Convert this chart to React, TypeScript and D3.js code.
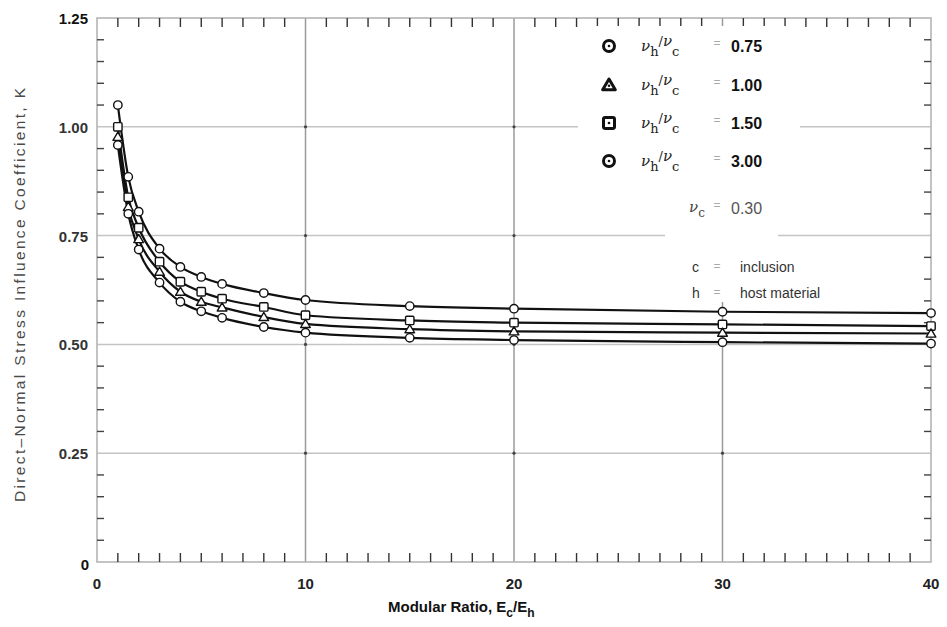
import React from "react";
import * as d3 from "d3";

const W = 947;
const H = 627;

const ratioX: number[] = [1, 1.5, 2, 3, 4, 5, 6, 8, 10, 15, 20, 30, 40];
const seriesTop: number[] = [1.05, 0.885, 0.805, 0.72, 0.678, 0.655, 0.639, 0.618, 0.602, 0.588, 0.582, 0.575, 0.572];
const seriesSecond: number[] = [1.0, 0.838, 0.768, 0.69, 0.644, 0.621, 0.605, 0.586, 0.567, 0.555, 0.55, 0.546, 0.542];
const seriesThird: number[] = [0.977, 0.816, 0.742, 0.667, 0.621, 0.598, 0.585, 0.563, 0.547, 0.535, 0.53, 0.527, 0.525];
const seriesBottom: number[] = [0.958, 0.8, 0.718, 0.642, 0.598, 0.576, 0.561, 0.54, 0.527, 0.515, 0.51, 0.505, 0.502];

const legendValues: string[] = ["0.75", "1.00", "1.50", "3.00"];
const legendShapes: string[] = ["circle", "triangle", "square", "circle"];
const seriesShapes: string[] = ["circle", "square", "triangle", "circle"];

const xTickLabels: number[] = [0, 10, 20, 30, 40];
const yTickLabels: number[] = [0, 0.25, 0.5, 0.75, 1.0, 1.25];

const FONT = "'Liberation Sans', Arial, Helvetica, sans-serif";

function Marker({ shape, cx, cy, r, sw, dot }: { shape: string; cx: number; cy: number; r: number; sw: number; dot?: boolean }) {
  let el: React.ReactNode;
  if (shape === "circle") {
    el = <circle cx={cx} cy={cy} r={r} fill="#fff" stroke="#111" strokeWidth={sw} />;
  } else if (shape === "square") {
    el = <rect x={cx - r} y={cy - r} width={2 * r} height={2 * r} rx={r * 0.3} fill="#fff" stroke="#111" strokeWidth={sw} />;
  } else {
    const pts = [
      [cx, cy - r * 1.1],
      [cx + r * 1.15, cy + r * 0.85],
      [cx - r * 1.15, cy + r * 0.85],
    ];
    el = <polygon points={pts.map((p) => p.join(",")).join(" ")} fill="#fff" stroke="#111" strokeWidth={sw} strokeLinejoin="round" />;
  }
  return (
    <g>
      {el}
      {dot && <circle cx={cx} cy={cy + (shape === "triangle" ? r * 0.15 : 0)} r={1.3} fill="#111" />}
    </g>
  );
}

export default function App() {
  const left = 97, right = 931, top = 18, bottom = 562;
  const x = d3.scaleLinear().domain([0, 40]).range([left, right]);
  const y = d3.scaleLinear().domain([0, 1.25]).range([bottom, top]);

  const allSeries = [seriesTop, seriesSecond, seriesThird, seriesBottom];
  const line = d3
    .line<[number, number]>()
    .x((d) => x(d[0]))
    .y((d) => y(d[1]))
    .curve(d3.curveMonotoneX);

  const minorX = d3.range(1, 40).filter((v) => v % 10 !== 0);
  const minorY = d3.range(1, 25).map((v) => v * 0.05).filter((v) => Math.abs(v / 0.25 - Math.round(v / 0.25)) > 1e-6);

  const legendRows = [46, 85, 123, 161];

  return (
    <svg width={W} height={H} style={{ position: "fixed", left: 0, top: 0, background: "#fff" }} fontFamily={FONT}>
      <rect x={0} y={0} width={W} height={H} fill="#fff" />

      {/* horizontal grid */}
      {[0.25, 0.5, 0.75, 1.0].map((v) => (
        <line key={"hg" + v} x1={left} x2={right} y1={y(v)} y2={y(v)} stroke="#c4c4c4" strokeWidth={1.5} />
      ))}
      {/* vertical grid */}
      {[10, 20, 30].map((v) => (
        <line key={"vg" + v} x1={x(v)} x2={x(v)} y1={top} y2={bottom} stroke="#9a9a9a" strokeWidth={1.5} />
      ))}
      {/* dots at grid intersections */}
      {[10, 20, 30].map((vx) =>
        [0.25, 0.5, 0.75, 1.0].map((vy) => <circle key={"gd" + vx + "_" + vy} cx={x(vx)} cy={y(vy)} r={1.6} fill="#444" />)
      )}

      {/* frame */}
      <rect x={left} y={top} width={right - left} height={bottom - top} fill="none" stroke="#b0b0b0" strokeWidth={1.5} />

      {/* x minor ticks bottom and top */}
      {minorX.map((v) => (
        <g key={"xt" + v}>
          <line x1={x(v)} x2={x(v)} y1={bottom} y2={bottom - 9} stroke="#333" strokeWidth={1.4} />
          <line x1={x(v)} x2={x(v)} y1={top} y2={top + 9} stroke="#333" strokeWidth={1.4} />
        </g>
      ))}
      {/* y minor ticks left and right */}
      {minorY.map((v) => (
        <g key={"yt" + v}>
          <line x1={left} x2={left + 7} y1={y(v)} y2={y(v)} stroke="#444" strokeWidth={1.4} />
          <line x1={right} x2={right - 7} y1={y(v)} y2={y(v)} stroke="#444" strokeWidth={1.4} />
        </g>
      ))}

      {/* legend background masks */}
      <rect x={578} y={26} width={222} height={152} fill="#fff" />
      <rect x={665} y={176} width={113} height={124} fill="#fff" />
      <rect x={680} y={252} width={205} height={50} fill="#fff" />

      {/* series lines */}
      {allSeries.map((s, i) => (
        <path
          key={"ln" + i}
          d={line(ratioX.map((v, j) => [v, s[j]] as [number, number])) || ""}
          fill="none"
          stroke="#111"
          strokeWidth={2.2}
        />
      ))}
      {/* markers */}
      {allSeries.map((s, i) =>
        ratioX.map((v, j) => (
          <Marker key={"mk" + i + "_" + j} shape={seriesShapes[i]} cx={x(v)} cy={y(s[j])} r={4.2} sw={1.4} />
        ))
      )}

      {/* y tick labels */}
      {yTickLabels.map((v) => (
        <text
          key={"yl" + v}
          x={v === 0 ? 89 : 88}
          y={y(v) + (v === 0 ? 8 : 6)}
          textAnchor="end"
          fontSize={15}
          fontWeight="bold"
          fill={v === 1.25 || v === 0 ? "#111" : "#333"}
        >
          {v === 0 ? "0" : v.toFixed(2)}
        </text>
      ))}
      {/* x tick labels */}
      {xTickLabels.map((v) => (
        <text key={"xl" + v} x={x(v)} y={589} textAnchor="middle" fontSize={15} fontWeight="bold" fill="#222">
          {v}
        </text>
      ))}

      {/* axis titles */}
      <text
        transform={`translate(25, 295) rotate(-90)`}
        textAnchor="middle"
        fontSize={15.5}
        fill="#4a4a4a"
        textLength={414}
        lengthAdjust="spacing"
      >
        Direct–Normal Stress Influence Coefficient, K
      </text>
      <text x={388} y={612} fontSize={15} fontWeight="bold" fill="#111">
        Modular Ratio, E
        <tspan dy={5} fontSize={12}>c</tspan>
        <tspan dy={-5}>/E</tspan>
        <tspan dy={5} fontSize={12}>h</tspan>
      </text>

      {/* legend */}
      {legendValues.map((val, i) => {
        const cy = legendRows[i];
        return (
          <g key={"lg" + i}>
            <Marker shape={legendShapes[i]} cx={609} cy={cy} r={5.5} sw={3} dot />
            <text x={641} y={cy + 5} fontSize={15} fill="#222" fontFamily="'DejaVu Serif', serif">
              <tspan fontStyle="italic">ν</tspan>
              <tspan dy={5} fontSize={13}>h</tspan>
              <tspan dy={-10} fontSize={13}>/</tspan>
              <tspan fontStyle="italic" fontSize={15}>ν</tspan>
              <tspan dy={10} fontSize={13}>c</tspan>
            </text>
            <text x={717} y={cy + 1} fontSize={12} fill="#aaa" textAnchor="middle">=</text>
            <text x={731} y={cy + 6} fontSize={16} fontWeight="bold" fill="#111">{val}</text>
          </g>
        );
      })}
      <text x={689} y={212} fontSize={15} fill="#444" fontFamily="'DejaVu Serif', serif">
        <tspan fontStyle="italic">ν</tspan>
        <tspan dy={5} fontSize={12}>c</tspan>
      </text>
      <text x={717} y={209} fontSize={12} fill="#aaa" textAnchor="middle">=</text>
      <text x={731} y={214} fontSize={16} fill="#555">0.30</text>

      <text x={692} y={272} fontSize={14} fill="#333">c</text>
      <text x={717} y={270} fontSize={12} fill="#aaa" textAnchor="middle">=</text>
      <text x={740} y={272} fontSize={14} fill="#333">inclusion</text>
      <text x={692} y={298} fontSize={14} fill="#333">h</text>
      <text x={717} y={296} fontSize={12} fill="#aaa" textAnchor="middle">=</text>
      <text x={740} y={298} fontSize={14} fill="#333">host material</text>
    </svg>
  );
}
